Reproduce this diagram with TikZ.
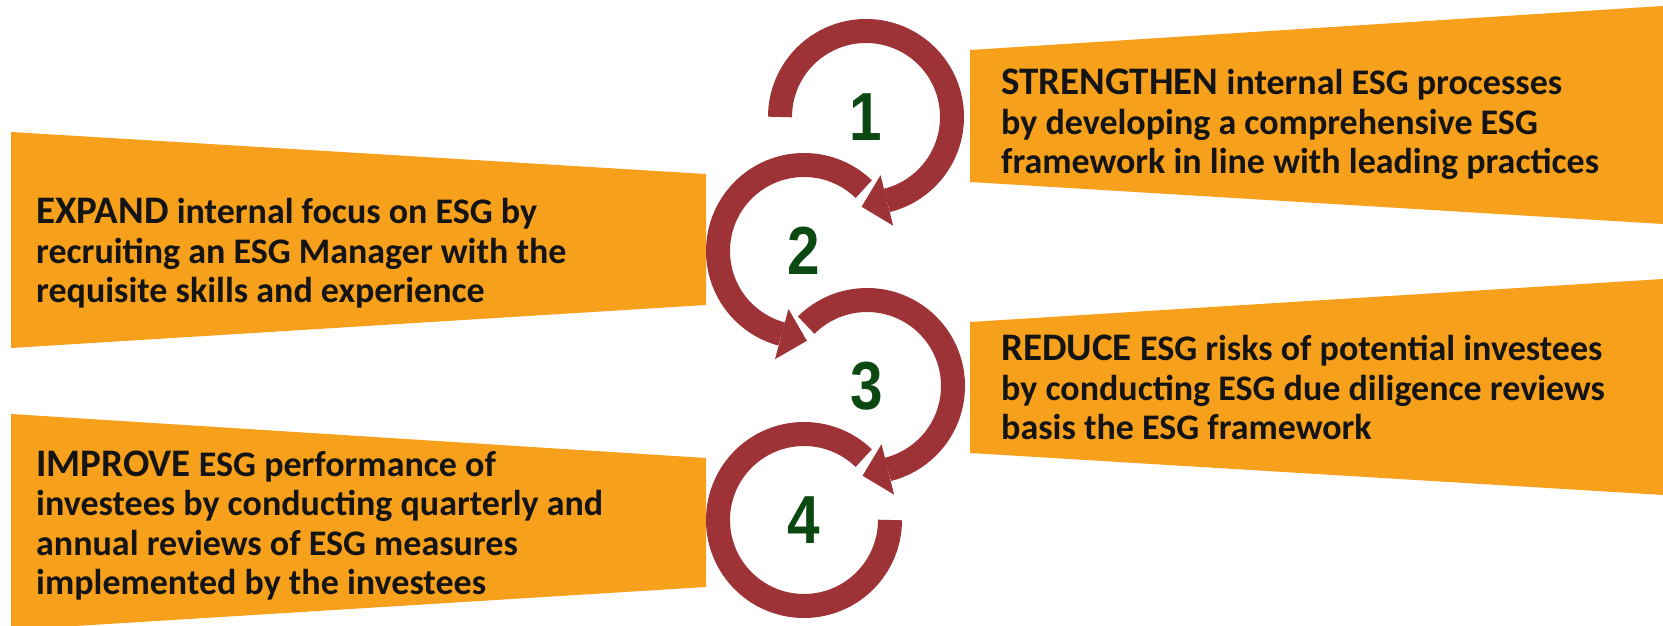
\documentclass[tikz,border=0pt]{standalone}
\usepackage{fontspec}
\setmainfont{Carlito}
\newfontfamily\digitfont[FakeStretch=0.86]{Liberation Sans}
\usetikzlibrary{calc}
\definecolor{esgorange}{RGB}{246,160,28}
\definecolor{esgred}{RGB}{157,51,55}
\definecolor{esggreen}{RGB}{12,72,18}

\begin{document}
\begin{tikzpicture}[
    x=1pt, y=1pt,
    banner/.style={fill=esgorange},
    ring/.style={draw=esgred, line width=24pt},
    head/.style={fill=esgred},
    teks/.style={anchor=base west, align=left, inner sep=0pt, text=black!92,
                 font=\fontsize{36}{39.5}\selectfont\bfseries},
    angka/.style={text=esggreen, inner sep=0pt,
                  font=\digitfont\fontsize{68}{68}\selectfont\bfseries}
  ]
    \useasboundingbox (0,0) rectangle (1663,626);

    % orange banners
    \fill[banner] (970,576) -- (1663,620) -- (1663,402) -- (970,444) -- cycle;
    \fill[banner] (11,494) -- (706,452) -- (706,321) -- (11,278) -- cycle;
    \fill[banner] (970,304) -- (1663,347) -- (1663,131) -- (970,173) -- cycle;
    \fill[banner] (11,212) -- (706,168) -- (706,39) -- (11,-4) -- cycle;

    % texts, placed at the baseline of their last line
    \node[teks] (t1) at (1001,452) {{\fontsize{39}{39.5}\selectfont STRENGTHEN} internal ESG processes\\
      by developing a comprehensive ESG\\framework in line with leading practices};
    \node[teks] (t2) at (36,323) {{\fontsize{39}{39.5}\selectfont EXPAND} internal focus on ESG by\\
      recruiting an ESG Manager with the\\requisite skills and experience};
    \node[teks] (t3) at (1001,186) {{\fontsize{39}{39.5}\selectfont REDUCE} ESG risks of potential investees\\
      by conducting ESG due diligence reviews\\basis the ESG framework};
    \node[teks] (t4) at (36,31) {{\fontsize{39}{39.5}\selectfont IMPROVE} ESG performance of\\
      investees by conducting quarterly and\\annual reviews of ESG measures\\
      implemented by the investees};

    % ring centres
    \coordinate (c1) at (866,509);
    \coordinate (c2) at (804,375);
    \coordinate (c3) at (867,240);
    \coordinate (c4) at (804,106);

    % rings with arrow heads
    \draw[ring] ($(c1)+(180:86)$) arc[start angle=180, end angle=-76, radius=86];
    \fill[head] ($(c1)+(-76:60)$) -- ($(c1)+(-76:112)$) -- ($(c1)+(-76:86)+(-166:26)$) -- cycle;
    \draw[ring] ($(c2)+(46:86)$) arc[start angle=46, end angle=255, radius=86];
    \fill[head] ($(c2)+(255:60)$) -- ($(c2)+(255:112)$) -- ($(c2)+(255:86)+(345:26)$) -- cycle;
    \draw[ring] ($(c3)+(135:86)$) arc[start angle=135, end angle=-76, radius=86];
    \fill[head] ($(c3)+(-76:60)$) -- ($(c3)+(-76:112)$) -- ($(c3)+(-76:86)+(-166:26)$) -- cycle;
    \draw[ring] ($(c4)+(46:86)$) arc[start angle=46, end angle=360, radius=86];

    \node[angka] (n1) at (c1) {1};
    \node[angka] (n2) at (c2) {2};
    \node[angka] (n3) at (c3) {3};
    \node[angka] (n4) at (c4) {4};
  \end{tikzpicture}
\end{document}
